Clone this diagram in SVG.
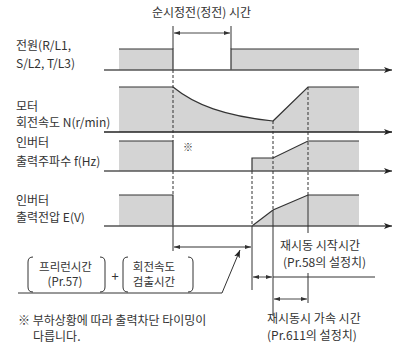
<svg xmlns="http://www.w3.org/2000/svg" width="393" height="349" viewBox="0 0 393 349">
<style>
text{font-family:"Noto Sans CJK KR","Noto Sans",sans-serif;font-size:12px;fill:#333}
.fill{fill:#d4d4d4;stroke:none}
.sig{fill:none;stroke:#333;stroke-width:1.2}
.base{fill:none;stroke:#555;stroke-width:1.4}
.dash{fill:none;stroke:#333;stroke-width:1;stroke-dasharray:3 2}
.sol{fill:none;stroke:#333;stroke-width:1}
.dim{fill:none;stroke:#333;stroke-width:0.9}
.br{font-size:11.5px}
</style>
<defs>
<marker id="ah" viewBox="0 0 8 6" refX="8" refY="3" markerWidth="8" markerHeight="6" markerUnits="userSpaceOnUse" orient="auto-start-reverse"><path d="M0,0 L8,3 L0,6 L2,3 z" fill="#222"/></marker>
<marker id="sm" viewBox="0 0 6 4" refX="6" refY="2" markerWidth="6" markerHeight="4" markerUnits="userSpaceOnUse" orient="auto-start-reverse"><path d="M0,0 L6,2 L0,4 z" fill="#333"/></marker>
</defs>

<g id="title"><text x="152" y="17">순시정전(정전) 시간</text></g>

<g id="labels">
<text x="16" y="50">전원(R/L1,</text>
<text x="16" y="68">S/L2, T/L3)</text>
<text x="16" y="111">모터</text>
<text x="16" y="127">회전속도 N(r/min)</text>
<text x="16" y="147">인버터</text>
<text x="16" y="166">출력주파수 f(Hz)</text>
<text x="16" y="205">인버터</text>
<text x="16" y="222">출력전압 E(V)</text>
</g>

<g id="power">
<rect class="fill" x="119" y="49" width="54" height="21"/>
<rect class="fill" x="231" y="49" width="128" height="21"/>
<polyline class="sig" points="119,49 173,49 173,70"/>
<polyline class="sig" points="231,70 231,49 359,49"/>
</g>

<g id="motor">
<path class="fill" d="M119,87 L173,87 C195,105 225,116 273,121 L308,87 L359,87 L359,132 L119,132 z"/>
<path class="sig" d="M119,87 L173,87 C195,105 225,116 273,121 L308,87 L359,87"/>
</g>

<g id="freq">
<rect class="fill" x="119" y="141" width="54" height="30"/>
<path class="fill" d="M252,171 L252,158 L273,158 L308,141 L359,141 L359,171 z"/>
<polyline class="sig" points="119,141 173,141 173,171"/>
<polyline class="sig" points="252,171 252,158 273,158 308,141 359,141"/>
<text x="183" y="151" style="font-size:10px">※</text>
</g>

<g id="voltage">
<rect class="fill" x="119" y="195" width="54" height="31"/>
<path class="fill" d="M252,226 L273,210 L308,195 L359,195 L359,226 z"/>
<polyline class="sig" points="119,195 173,195 173,226"/>
<polyline class="sig" points="252,226 273,210 308,195 359,195"/>
</g>

<g id="connectors">
<line class="base" x1="104" y1="70" x2="392" y2="70" marker-end="url(#ah)"/>
<line class="base" x1="104" y1="132" x2="392" y2="132" marker-end="url(#ah)" style="stroke:#222"/>
<line class="base" x1="104" y1="171" x2="392" y2="171" marker-end="url(#ah)"/>
<line class="base" x1="104" y1="226" x2="392" y2="226" marker-end="url(#ah)"/>

<line class="sol" x1="173" y1="26" x2="173" y2="49"/>
<line class="sol" x1="231" y1="26" x2="231" y2="49"/>
<line class="dim" x1="174" y1="33" x2="230" y2="33" marker-start="url(#sm)" marker-end="url(#sm)"/>

<line class="dash" x1="173" y1="70" x2="173" y2="141"/>
<line class="dash" x1="173" y1="171" x2="173" y2="195"/>
<line class="sol" x1="173" y1="226" x2="173" y2="251"/>

<line class="dash" x1="252" y1="171" x2="252" y2="226"/>
<line class="sol" x1="252" y1="226" x2="252" y2="290"/>

<line class="dash" x1="273" y1="121" x2="273" y2="210"/>
<line class="sol" x1="273" y1="210" x2="273" y2="316"/>

<line class="dash" x1="308" y1="87" x2="308" y2="195"/>
<line class="sol" x1="308" y1="195" x2="308" y2="233"/>
<line class="sol" x1="308" y1="273" x2="308" y2="303"/>

<line class="dim" x1="174" y1="247" x2="251" y2="247" marker-start="url(#sm)" marker-end="url(#sm)" style="stroke-width:1.2"/>
<line class="dim" x1="253" y1="277" x2="272" y2="277" marker-start="url(#sm)" marker-end="url(#sm)"/>
<line class="sol" x1="273" y1="277" x2="375" y2="277"/>
<line class="dim" x1="274" y1="299" x2="307" y2="299" marker-start="url(#sm)" marker-end="url(#sm)"/>

<polyline class="sol" points="18,293 222,293 240,250" marker-end="url(#ah)"/>
</g>

<g id="freerun">
<path class="sol" d="M33,257 Q28,257 28,262 L28,287 Q28,292 33,292"/>
<path class="sol" d="M100,257 Q105,257 105,262 L105,287 Q105,292 100,292"/>
<text class="br" x="65.5" y="271" text-anchor="middle">프리런시간</text>
<text class="br" x="65" y="286" text-anchor="middle">(Pr.57)</text>
<text x="115" y="281" text-anchor="middle" style="font-size:13px">+</text>
<path class="sol" d="M128,257 Q123,257 123,262 L123,287 Q123,292 128,292"/>
<path class="sol" d="M188,257 Q193,257 193,262 L193,287 Q193,292 188,292"/>
<text class="br" x="154" y="271" text-anchor="middle">회전속도</text>
<text class="br" x="154" y="286" text-anchor="middle">검출시간</text>
</g>

<g id="restart">
<text x="280" y="250">재시동 시작시간</text>
<text x="283" y="267">(Pr.58의 설정치)</text>
<text x="267" y="323">재시동시 가속 시간</text>
<text x="267" y="340">(Pr.611의 설정치)</text>
</g>

<g id="note">
<text x="18" y="325">※ 부하상황에 따라 출력차단 타이밍이</text>
<text x="33" y="341">다릅니다.</text>
</g>
</svg>
